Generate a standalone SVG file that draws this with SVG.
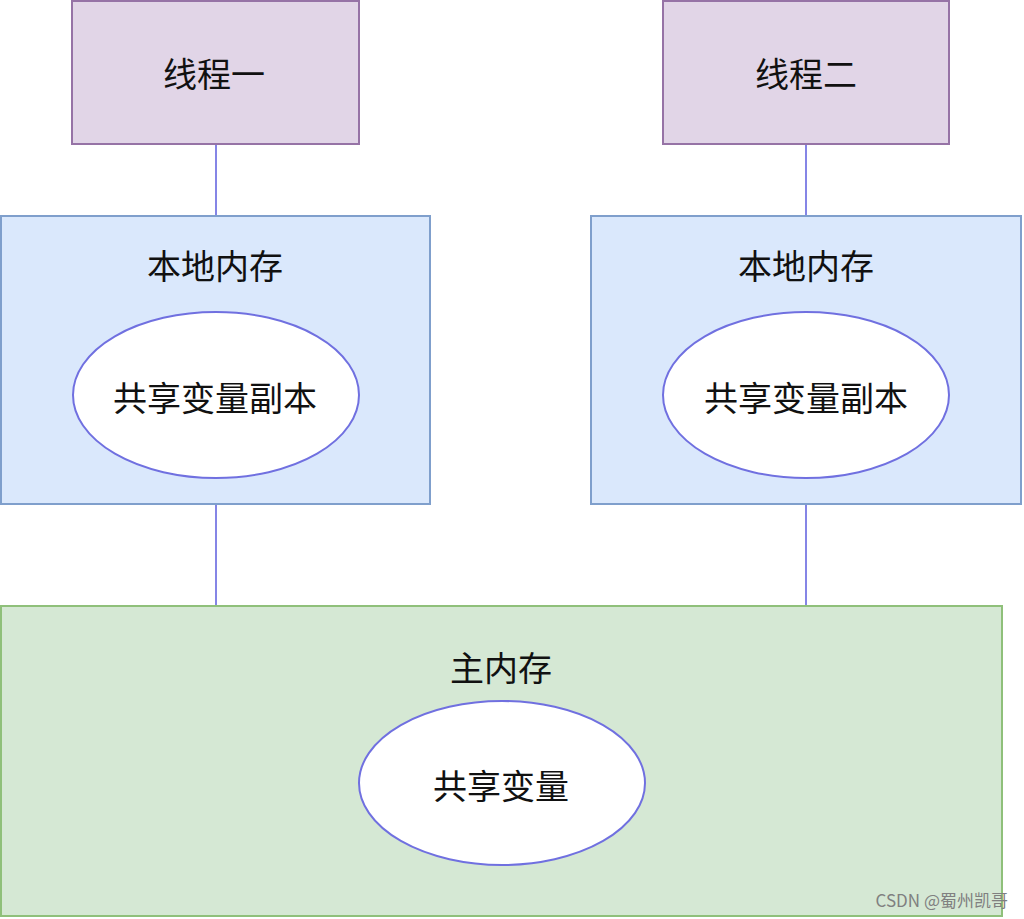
<svg xmlns="http://www.w3.org/2000/svg" width="1024" height="919" viewBox="0 0 1024 919">
<style>
text{font-family:"Noto Sans CJK SC","Liberation Sans",sans-serif;font-size:34px;fill:#111;text-anchor:middle;dominant-baseline:central}
.thread{fill:#e1d5e7;stroke:#9673a6;stroke-width:2}
.local{fill:#dae8fc;stroke:#7f9fcc;stroke-width:2}
.main{fill:#d5e8d4;stroke:#8fc07a;stroke-width:2}
.ell{fill:#fff;stroke:#7070e0;stroke-width:2}
.conn{stroke:#8585e6;stroke-width:2;fill:none}
.wm{font-size:17px;fill:#808080;text-anchor:end}
</style>
<rect width="1024" height="919" fill="#fff"/>
<g id="connectors">
<line class="conn" x1="216" y1="144" x2="216" y2="216"/>
<line class="conn" x1="806" y1="144" x2="806" y2="216"/>
<line class="conn" x1="216" y1="504" x2="216" y2="606"/>
<line class="conn" x1="806" y1="504" x2="806" y2="606"/>
</g>
<g id="thread1"><rect class="thread" x="72" y="1" width="287" height="143"/><text x="214" y="72">线程一</text></g>
<g id="thread2"><rect class="thread" x="663" y="1" width="286" height="143"/><text x="806" y="72">线程二</text></g>
<g id="local1"><rect class="local" x="1" y="216" width="429" height="288"/><text x="215" y="264">本地内存</text></g>
<g id="local2"><rect class="local" x="591" y="216" width="430" height="288"/><text x="806" y="264">本地内存</text></g>
<g id="copy1"><ellipse class="ell" cx="216" cy="395" rx="143" ry="83"/><text x="215" y="396">共享变量副本</text></g>
<g id="copy2"><ellipse class="ell" cx="806" cy="395" rx="143" ry="83"/><text x="806" y="396">共享变量副本</text></g>
<g id="main"><rect class="main" x="1" y="606" width="1001" height="310"/><text x="501" y="666">主内存</text></g>
<g id="shared"><ellipse class="ell" cx="502" cy="783" rx="143" ry="82"/><text x="501" y="784">共享变量</text></g>
<text class="wm" x="1008" y="899">CSDN @蜀州凯哥</text>
</svg>
